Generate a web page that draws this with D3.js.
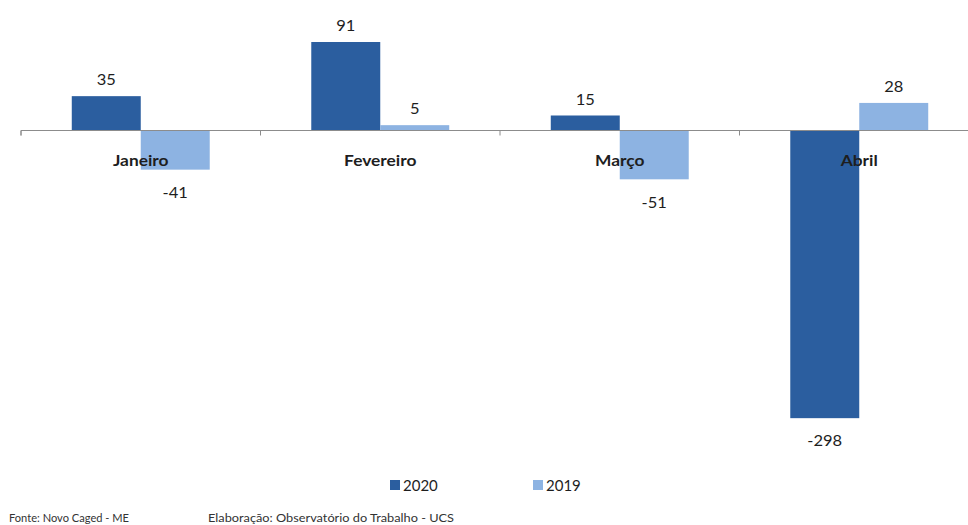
<!DOCTYPE html>
<html>
<head>
<meta charset="utf-8">
<script src="https://cdn.jsdelivr.net/npm/d3@7"></script>
<style>
  html, body { margin: 0; padding: 0; background: #fff; }
  svg { display: block; }
  text { font-family: Lato, "Open Sans", "Liberation Sans", sans-serif; fill: #1e1e1e; }
</style>
</head>
<body>
<svg id="chart" width="968" height="525"></svg>
<script>
// Saldo de empregos por mês, 2020 vs 2019
const months = ["Janeiro", "Fevereiro", "Março", "Abril"];
const seriesNames = ["2020", "2019"];
const values2020 = [35, 91, 15, -298];
const values2019 = [-41, 5, -51, 28];
const colors = ["#2B5E9F", "#8DB3E2"];
const sourceText = "Fonte: Novo Caged - ME";
const creditText = "Elaboração: Observatório do Trabalho - UCS";

const rows = months.map((m, i) => ({ month: m, vals: [values2020[i], values2019[i]] }));

const svg = d3.select("#chart");

const x0 = d3.scaleBand().domain(months).range([21, 979]).padding(0);
const x1 = d3.scaleBand().domain(seriesNames).range([0, x0.bandwidth()]).paddingInner(0).paddingOuter(0.736);
const y = d3.scaleLinear().domain([-300, 100]).range([130 + 300 * 0.967, 130 - 100 * 0.967]);

// slightly widened glyphs
const stretch = (sel, sx) => sel.attr("transform", function () {
  const t = d3.select(this);
  return `translate(${t.attr("data-x")},${t.attr("data-y")}) scale(${sx},1)`;
});

// Bars
const groups = svg.append("g").selectAll("g").data(rows).join("g")
  .attr("transform", d => `translate(${x0(d.month)},0)`);

groups.selectAll("rect")
  .data(d => d.vals.map((v, i) => ({ v, s: seriesNames[i], i })))
  .join("rect")
  .attr("x", d => x1(d.s))
  .attr("width", x1.bandwidth())
  .attr("y", d => y(Math.max(0, d.v)))
  .attr("height", d => Math.abs(y(d.v) - y(0)))
  .attr("fill", d => colors[d.i]);

// Value labels
groups.selectAll("text.val")
  .data(d => d.vals.map((v, i) => ({ v, s: seriesNames[i] })))
  .join("text")
  .attr("class", "val")
  .attr("data-x", d => x1(d.s) + x1.bandwidth() / 2)
  .attr("data-y", d => d.v >= 0 ? y(d.v) - 17 : y(d.v) + 22)
  .attr("text-anchor", "middle")
  .attr("dominant-baseline", "central")
  .style("font-size", "15px")
  .text(d => d.v)
  .call(stretch, 1.1);

// Category axis at zero
const axis = d3.axisBottom(x0).tickSize(5).tickFormat("");
const axisG = svg.append("g").attr("transform", `translate(0,${Math.round(y(0)) + 0.5})`).call(axis);
axisG.select(".domain").attr("stroke", "#8c8c8c").attr("d", `M21,5V0H979V5`);
axisG.selectAll(".tick line").attr("stroke", "#8c8c8c")
  .attr("transform", `translate(${-x0.bandwidth() / 2},0)`);

// Category labels
svg.append("g").selectAll("text").data(months).join("text")
  .attr("data-x", d => x0(d) + x0.bandwidth() / 2)
  .attr("data-y", 160)
  .attr("text-anchor", "middle")
  .attr("dominant-baseline", "central")
  .style("font-size", "15.5px")
  .style("font-weight", "bold")
  .text(d => d)
  .call(stretch, 1.12);

// Legend
const legendX = [390, 533];
const legend = svg.append("g").selectAll("g").data(seriesNames).join("g")
  .attr("transform", (d, i) => `translate(${legendX[i]},485)`);
legend.append("rect").attr("x", 0).attr("y", -5).attr("width", 10).attr("height", 10)
  .attr("fill", (d, i) => colors[i]);
legend.append("text").attr("x", 13).attr("y", 0).attr("dominant-baseline", "central")
  .style("font-size", "15px").text(d => d);

// Footer
svg.append("text").attr("x", 9).attr("y", 522).style("font-size", "12px").style("fill", "#333")
  .attr("textLength", 120).attr("lengthAdjust", "spacingAndGlyphs").text(sourceText);
svg.append("text").attr("x", 208).attr("y", 522).style("font-size", "12px").style("fill", "#333")
  .attr("textLength", 246).attr("lengthAdjust", "spacingAndGlyphs").text(creditText);
</script>
</body>
</html>
